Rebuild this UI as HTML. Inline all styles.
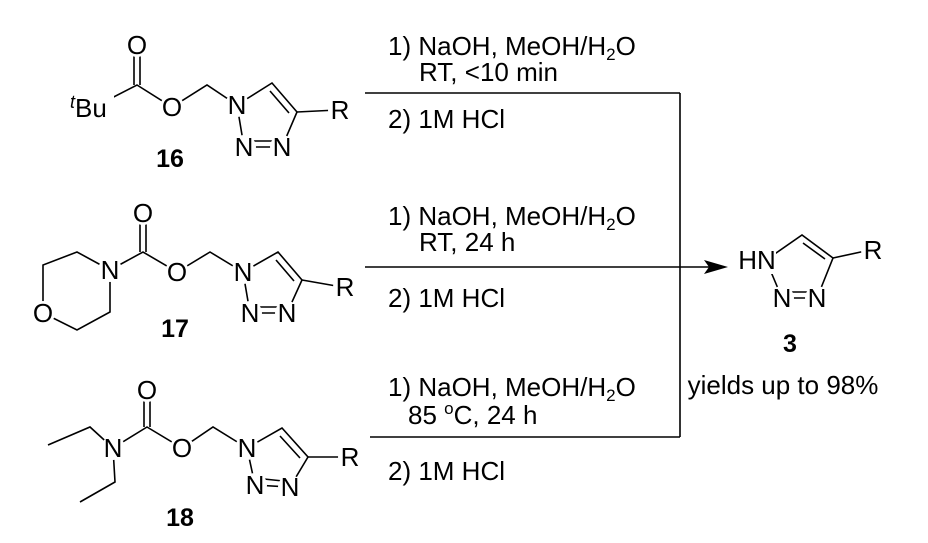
<!DOCTYPE html>
<html><head><meta charset="utf-8"><style>
html,body{margin:0;padding:0;background:#fff}
svg{display:block}
text{font-family:"Liberation Sans",Arial,sans-serif;fill:#000}
.a{font-size:26px;text-anchor:middle}
.r{font-size:26px}
.b{font-size:25px;font-weight:bold;text-anchor:middle}
</style></head><body>
<svg width="928" height="543" viewBox="0 0 928 543" xmlns="http://www.w3.org/2000/svg">
<g stroke="#000" stroke-width="1.6" fill="none">
<!-- 16 -->
<polyline points="100,104 137,85 172,107 207,85 237,105"/>
<line x1="134" y1="85" x2="134" y2="45"/><line x1="140" y1="85" x2="140" y2="45"/>
<polygon points="237,105 272,83 297,112 282,147 244,147"/>
<line x1="270" y1="91" x2="289" y2="113"/>
<line x1="253" y1="141" x2="274" y2="141"/>
<line x1="297" y1="112" x2="337" y2="110"/>
<!-- 17 -->
<polyline points="110,270 143,252 177,272 210,252 243,272"/>
<line x1="140" y1="252" x2="140" y2="213"/><line x1="146" y1="252" x2="146" y2="213"/>
<polygon points="110,270 77,252 43,265 43,313 77,330 110,312"/>
<polygon points="243,272 278,252 302,280 287,313 250,313"/>
<line x1="276" y1="260" x2="294" y2="281"/>
<line x1="259" y1="307" x2="279" y2="307"/>
<line x1="302" y1="280" x2="342" y2="287"/>
<!-- 18 -->
<polyline points="113,448 147,427 182,448 213,427 247,448"/>
<line x1="144" y1="427" x2="144" y2="390"/><line x1="150" y1="427" x2="150" y2="390"/>
<polyline points="113,448 90,427 48,445"/>
<polyline points="113,448 115,482 80,502"/>
<polygon points="247,448 282,428 308,457 290,487 255,485"/>
<line x1="280" y1="436" x2="300" y2="458"/>
<line x1="264" y1="479" x2="283" y2="481"/>
<line x1="308" y1="457" x2="347" y2="457"/>
<!-- 3 -->
<polygon points="766,260 802,235 833,258 817,298 782,298"/>
<line x1="803" y1="243" x2="825" y2="259"/>
<line x1="790" y1="292" x2="809" y2="292"/>
<line x1="833" y1="258" x2="870" y2="250"/>
<!-- arrows -->
<line x1="365" y1="93" x2="680" y2="93"/>
<line x1="680" y1="93" x2="680" y2="437"/>
<line x1="370" y1="437" x2="680" y2="437"/>
<line x1="365" y1="267" x2="710" y2="267"/>
</g>
<polygon points="728,267 704,260 709,267 704,274" fill="#000"/>
<!-- label masks -->
<g fill="#fff">
<circle cx="137" cy="45" r="12"/><circle cx="172" cy="107" r="12"/><circle cx="237" cy="105" r="12"/>
<circle cx="244" cy="147" r="12"/><circle cx="282" cy="147" r="12"/><circle cx="340" cy="110" r="12"/>
<rect x="70" y="90" width="44" height="30"/>
<circle cx="143" cy="213" r="12"/><circle cx="110" cy="270" r="12"/><circle cx="43" cy="313" r="12"/>
<circle cx="177" cy="272" r="12"/><circle cx="243" cy="272" r="12"/><circle cx="250" cy="313" r="12"/>
<circle cx="287" cy="313" r="12"/><circle cx="345" cy="287" r="12"/>
<circle cx="147" cy="390" r="12"/><circle cx="113" cy="448" r="12"/><circle cx="182" cy="448" r="12"/>
<circle cx="247" cy="448" r="12"/><circle cx="255" cy="485" r="12"/><circle cx="290" cy="487" r="12"/>
<circle cx="350" cy="457" r="12"/>
<rect x="740" y="246" width="36" height="28"/><circle cx="782" cy="298" r="12"/><circle cx="817" cy="298" r="12"/>
<circle cx="873" cy="250" r="12"/>
</g>
<!-- atom labels -->
<g class="a">
<text class="a" x="137" y="54">O</text>
<text class="a" x="172" y="116">O</text>
<text class="a" x="237" y="114">N</text>
<text class="a" x="244" y="156">N</text>
<text class="a" x="282" y="156">N</text>
<text class="a" x="340" y="119">R</text>
<text class="a" x="143" y="222">O</text>
<text class="a" x="110" y="279">N</text>
<text class="a" x="43" y="322">O</text>
<text class="a" x="177" y="281">O</text>
<text class="a" x="243" y="281">N</text>
<text class="a" x="250" y="322">N</text>
<text class="a" x="287" y="322">N</text>
<text class="a" x="345" y="296">R</text>
<text class="a" x="147" y="399">O</text>
<text class="a" x="113" y="457">N</text>
<text class="a" x="182" y="457">O</text>
<text class="a" x="247" y="457">N</text>
<text class="a" x="255" y="494">N</text>
<text class="a" x="290" y="496">N</text>
<text class="a" x="350" y="466">R</text>
<text class="a" x="757" y="269">HN</text>
<text class="a" x="782" y="307">N</text>
<text class="a" x="817" y="307">N</text>
<text class="a" x="873" y="259">R</text>
</g>
<text x="70" y="117" font-size="26"><tspan font-style="italic" font-size="18" dy="-9">t</tspan><tspan dy="9">Bu</tspan></text>

<text class="b" x="170" y="167">16</text>
<text class="b" x="175" y="337">17</text>
<text class="b" x="180" y="526">18</text>
<text class="b" x="790" y="352">3</text>
<text class="r" x="783" y="394" text-anchor="middle">yields up to 98%</text>

<!-- reagents -->
<text class="r" x="388" y="55">1) NaOH, MeOH/H<tspan font-size="17" dy="5">2</tspan><tspan dy="-5">O</tspan></text>
<text class="r" x="419" y="81">RT, &lt;10 min</text>
<text class="r" x="388" y="128">2) 1M HCl</text>

<text class="r" x="388" y="225">1) NaOH, MeOH/H<tspan font-size="17" dy="5">2</tspan><tspan dy="-5">O</tspan></text>
<text class="r" x="419" y="251">RT, 24 h</text>
<text class="r" x="388" y="307">2) 1M HCl</text>

<text class="r" x="388" y="396">1) NaOH, MeOH/H<tspan font-size="17" dy="5">2</tspan><tspan dy="-5">O</tspan></text>
<text class="r" x="408" y="424">85 <tspan font-size="17" dy="-10">o</tspan><tspan dy="10">C, 24 h</tspan></text>
<text class="r" x="388" y="480">2) 1M HCl</text>
</svg>
</body></html>
